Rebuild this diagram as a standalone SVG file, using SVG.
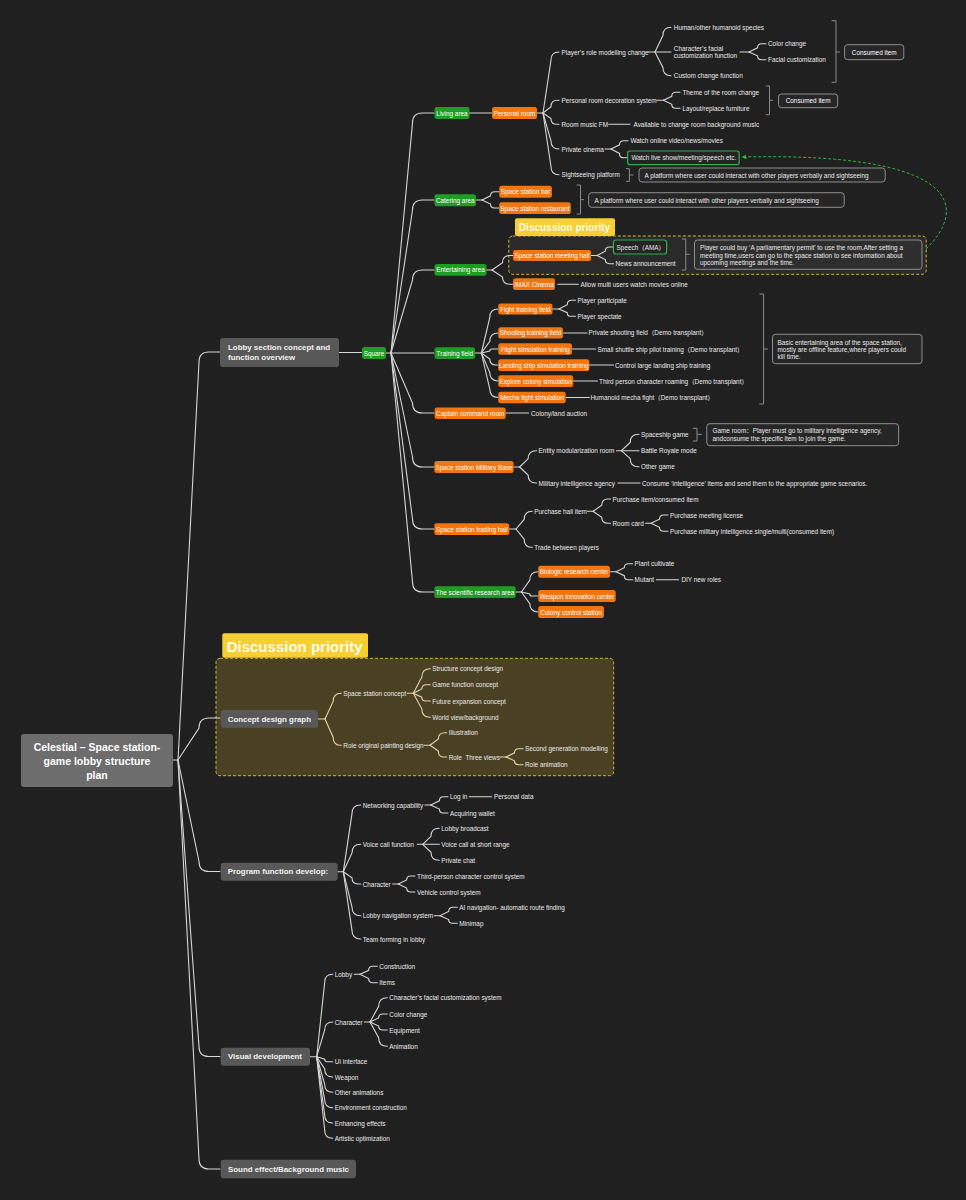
<svg xmlns="http://www.w3.org/2000/svg" width="966" height="1200" viewBox="0 0 966 1200">
<defs>
<style>
text{font-family:"Liberation Sans",Arial,"Noto Sans CJK SC",sans-serif;dominant-baseline:central;}
.t{font-size:6.4px;fill:#ebebeb;}
.tn{font-size:6.4px;fill:#ffffff;text-anchor:middle;}
.tb{font-size:7.9px;font-weight:bold;fill:#f2f2f2;}
.tr{font-size:10.5px;font-weight:bold;fill:#ffffff;text-anchor:middle;}
.l1{fill:#585858;}
.gr{fill:#1f9d22;}
.or{fill:#f2760f;}
.ln{fill:none;stroke:#d6d6d6;stroke-width:1.1;stroke-linecap:round;}
.lc{fill:none;stroke:#e3d7a8;stroke-width:1.1;stroke-linecap:round;}
.br{fill:none;stroke:#8a8a8a;stroke-width:1;}
.nb{fill:#262626;stroke:#9a9a9a;stroke-width:0.9;}
.gb{fill:#242424;stroke:#2fae4f;stroke-width:1.2;}
.dp{fill:#f6cf33;}
.dpt{font-weight:bold;fill:#fffbea;}
.dz{stroke:#cfb43e;stroke-width:1;stroke-dasharray:3 2;}
</style>
<marker id="ga" viewBox="0 0 10 10" refX="9" refY="5" markerWidth="5" markerHeight="5" orient="auto">
<path d="M0,0 L10,5 L0,10 z" fill="#2fb344"/>
</marker>
</defs>
<rect x="0" y="0" width="966" height="1200" fill="#202020"/>

<!-- priority regions -->
<g id="priority-1">
<rect x="508.8" y="236" width="417.4" height="38.3" rx="4" fill="#2a2a2a" class="dz"/>
<rect x="515" y="218.3" width="100" height="17.7" rx="2" class="dp"/>
<text x="518.8" y="227.3" class="dpt" style="font-size:10.1px">Discussion priority</text>
</g>
<g id="priority-2">
<rect x="216" y="658.3" width="397.7" height="117.4" rx="4" fill="#4a4024" class="dz"/>
<rect x="222.3" y="633.3" width="145.7" height="24.4" rx="2" class="dp"/>
<text x="226.7" y="646" class="dpt" style="font-size:15px">Discussion priority</text>
</g>

<g id="connectors">
<path class="ln" d="M173,760 H178"/>
<path class="ln" d="M178,760 L199,362 Q199,352 209,352 L220,352"/>
<path class="ln" d="M178,760 L199,728 Q199,718 209,718 L220,718"/>
<path class="ln" d="M178,760 L199,861.5 Q199,871.5 209,871.5 L220,871.5"/>
<path class="ln" d="M178,760 L199,1046.5 Q199,1056.5 209,1056.5 L220,1056.5"/>
<path class="ln" d="M178,760 L199,1159 Q199,1169 209,1169 L220,1169"/>
<path class="ln" d="M339,352.5 H362"/>
<path class="ln" d="M386,353 H391"/>
<path class="ln" d="M391,353 L412.5,123 Q412.5,113 422.5,113 L434,113"/>
<path class="ln" d="M391,353 L412.5,210 Q412.5,200 422.5,200 L434,200"/>
<path class="ln" d="M391,353 L412.5,280 Q412.5,270 422.5,270 L434,270"/>
<path class="ln" d="M391,353 L434,353"/>
<path class="ln" d="M391,353 L412.5,403 Q412.5,413 422.5,413 L434,413"/>
<path class="ln" d="M391,353 L412.5,457 Q412.5,467 422.5,467 L434,467"/>
<path class="ln" d="M391,353 L412.5,519 Q412.5,529 422.5,529 L434,529"/>
<path class="ln" d="M391,353 L412.5,582 Q412.5,592 422.5,592 L434,592"/>
<path class="ln" d="M469,113 H492"/>
<path class="ln" d="M537,113 H543"/>
<path class="ln" d="M543,113 L551,60 Q551,52 559,52"/>
<path class="ln" d="M543,113 L551,106.65 Q551,100.3 557.35,100.3 L559,100.3"/>
<path class="ln" d="M543,113 L551,118.65 Q551,124.3 556.65,124.3 L559,124.3"/>
<path class="ln" d="M543,113 L551,141 Q551,149 559,149"/>
<path class="ln" d="M543,113 L551,166.7 Q551,174.7 559,174.7"/>
<path class="ln" d="M648,52 H655"/>
<path class="ln" d="M655,52 L663,35.3 Q663,27.3 671,27.3"/>
<path class="ln" d="M655,52 L671,52"/>
<path class="ln" d="M655,52 L663,67.7 Q663,75.7 671,75.7"/>
<path class="ln" d="M740,52 H749"/>
<path class="ln" d="M749,52 L757.5,47.85 Q757.5,43.7 761.65,43.7 L766,43.7"/>
<path class="ln" d="M749,52 L757.5,55.85 Q757.5,59.7 761.35,59.7 L766,59.7"/>
<path class="ln" d="M657,100.3 H663.5"/>
<path class="ln" d="M663.5,100.3 L671.75,96.3 Q671.75,92.3 675.75,92.3 L680,92.3"/>
<path class="ln" d="M663.5,100.3 L671.75,104.3 Q671.75,108.3 675.75,108.3 L680,108.3"/>
<path class="ln" d="M608.7,124.3 H630"/>
<path class="ln" d="M605,149 H611"/>
<path class="ln" d="M611,149 L619.5,144.85 Q619.5,140.7 623.65,140.7 L628,140.7"/>
<path class="ln" d="M611,149 L619.5,153.4 Q619.5,157.8 623.9,157.8 L627.6,157.8"/>
<path class="ln" d="M476,200 H482"/>
<path class="ln" d="M482,200 L490.5,195.85 Q490.5,191.7 494.65,191.7 L499,191.7"/>
<path class="ln" d="M482,200 L490.5,204 Q490.5,208 494.5,208 L499,208"/>
<path class="ln" d="M486.5,270 H492"/>
<path class="ln" d="M492,270 L502.5,262.75 Q502.5,255.5 509.75,255.5 L513,255.5"/>
<path class="ln" d="M492,270 L502.5,277.1 Q502.5,284.2 509.6,284.2 L513,284.2"/>
<path class="ln" d="M591,255.5 H597"/>
<path class="ln" d="M597,255.5 L605.25,251.25 Q605.25,247 609.5,247 L613.5,247"/>
<path class="ln" d="M597,255.5 L605.25,259.6 Q605.25,263.7 609.35,263.7 L613.5,263.7"/>
<path class="ln" d="M557.7,284.3 H578.4"/>
<path class="ln" d="M475,353 H481.4"/>
<path class="ln" d="M481.4,353 L489.8,317.4 Q489.8,309 498.2,309"/>
<path class="ln" d="M481.4,353 L489.8,341.4 Q489.8,333 498.2,333"/>
<path class="ln" d="M481.4,353 L489.8,351 Q489.8,349 491.8,349 L498.2,349"/>
<path class="ln" d="M481.4,353 L489.8,359 Q489.8,365 495.8,365 L498.2,365"/>
<path class="ln" d="M481.4,353 L489.8,372.6 Q489.8,381 498.2,381"/>
<path class="ln" d="M481.4,353 L489.8,389.1 Q489.8,397.5 498.2,397.5"/>
<path class="ln" d="M552.5,309 H559"/>
<path class="ln" d="M559,309 L567.25,304.65 Q567.25,300.3 571.6,300.3 L575.5,300.3"/>
<path class="ln" d="M559,309 L567.25,312.65 Q567.25,316.3 570.9,316.3 L575.5,316.3"/>
<path class="ln" d="M562.9,333 H587"/>
<path class="ln" d="M572,349 H595.7"/>
<path class="ln" d="M589.3,365 H613.6"/>
<path class="ln" d="M573.2,381 H597.5"/>
<path class="ln" d="M565.7,397.5 H589.3"/>
<path class="ln" d="M505.7,413 H528.6"/>
<path class="ln" d="M513.6,467 H519.6"/>
<path class="ln" d="M519.6,467 L528.1,458.85 Q528.1,450.7 536.25,450.7 L536.6,450.7"/>
<path class="ln" d="M519.6,467 L528.1,475 Q528.1,483 536.1,483 L536.6,483"/>
<path class="ln" d="M616.4,450.7 H621.4"/>
<path class="ln" d="M621.4,450.7 L630.2,442.5 Q630.2,434.3 638.4,434.3 L639,434.3"/>
<path class="ln" d="M621.4,450.7 H639"/>
<path class="ln" d="M621.4,450.7 L630.2,458.7 Q630.2,466.7 638.2,466.7 L639,466.7"/>
<path class="ln" d="M617.9,483 H640"/>
<path class="ln" d="M509.3,529 H516"/>
<path class="ln" d="M516,529 L524.15,519.45 Q524.15,511.3 532.3,511.3"/>
<path class="ln" d="M516,529 L524.15,539.15 Q524.15,547.3 532.3,547.3"/>
<path class="ln" d="M587.5,511.3 H593"/>
<path class="ln" d="M593,511.3 L601.75,505.15 Q601.75,499 607.9,499 L610.5,499"/>
<path class="ln" d="M593,511.3 L601.75,517.3 Q601.75,523.3 607.75,523.3 L610.5,523.3"/>
<path class="ln" d="M645.7,523.3 H651"/>
<path class="ln" d="M651,523.3 L659.5,519.15 Q659.5,515 663.65,515 L668,515"/>
<path class="ln" d="M651,523.3 L659.5,527.3 Q659.5,531.3 663.5,531.3 L668,531.3"/>
<path class="ln" d="M515.7,592 H521.4"/>
<path class="ln" d="M521.4,592 L529.8,580.1 Q529.8,571.7 538.2,571.7"/>
<path class="ln" d="M521.4,592 L529.8,594 Q529.8,596 531.8,596 L538.2,596"/>
<path class="ln" d="M521.4,592 L529.8,603.6 Q529.8,612 538.2,612"/>
<path class="ln" d="M610,571.7 H616"/>
<path class="ln" d="M616,571.7 L624.3,567.7 Q624.3,563.7 628.3,563.7 L632.6,563.7"/>
<path class="ln" d="M616,571.7 L624.3,575.7 Q624.3,579.7 628.3,579.7 L632.6,579.7"/>
<path class="ln" d="M656.4,579.7 H678.6"/>
<path class="lc" d="M318,719 H325"/>
<path class="lc" d="M325,719 L333.15,701.45 Q333.15,693.3 341.3,693.3"/>
<path class="lc" d="M325,719 L333.15,737.15 Q333.15,745.3 341.3,745.3"/>
<path class="lc" d="M407.3,693.3 H413.3"/>
<path class="lc" d="M413.3,693.3 L421.8,677.2 Q421.8,668.7 430.3,668.7"/>
<path class="lc" d="M413.3,693.3 L421.8,689 Q421.8,684.7 426.1,684.7 L430.3,684.7"/>
<path class="lc" d="M413.3,693.3 L421.8,697.15 Q421.8,701 425.65,701 L430.3,701"/>
<path class="lc" d="M413.3,693.3 L421.8,708.8 Q421.8,717.3 430.3,717.3"/>
<path class="lc" d="M424,745.3 H430"/>
<path class="lc" d="M430,745.3 L438.35,739 Q438.35,732.7 444.65,732.7 L446.7,732.7"/>
<path class="lc" d="M430,745.3 L438.35,751.15 Q438.35,757 444.2,757 L446.7,757"/>
<path class="lc" d="M500,757 H506"/>
<path class="lc" d="M506,757 L514.5,752.85 Q514.5,748.7 518.65,748.7 L523,748.7"/>
<path class="lc" d="M506,757 L514.5,760.85 Q514.5,764.7 518.35,764.7 L523,764.7"/>
<path class="ln" d="M337.7,871.7 H343.3"/>
<path class="ln" d="M343.3,871.7 L352,813.7 Q352,805 360.7,805"/>
<path class="ln" d="M343.3,871.7 L352,853 Q352,844.3 360.7,844.3"/>
<path class="ln" d="M343.3,871.7 L352,877.85 Q352,884 358.15,884 L360.7,884"/>
<path class="ln" d="M343.3,871.7 L352,907 Q352,915.7 360.7,915.7"/>
<path class="ln" d="M343.3,871.7 L352,930.3 Q352,939 360.7,939"/>
<path class="ln" d="M425,805 H430.7"/>
<path class="ln" d="M430.7,805 L439.35,800.85 Q439.35,796.7 443.5,796.7 L448,796.7"/>
<path class="ln" d="M430.7,805 L439.35,809 Q439.35,813 443.35,813 L448,813"/>
<path class="ln" d="M469.3,796.7 H491.7"/>
<path class="ln" d="M417.3,844.3 H422.7"/>
<path class="ln" d="M422.7,844.3 L431,836.3 Q431,828.3 439,828.3 L439.3,828.3"/>
<path class="ln" d="M422.7,844.3 H439.3"/>
<path class="ln" d="M422.7,844.3 L431,852.3 Q431,860.3 439,860.3 L439.3,860.3"/>
<path class="ln" d="M392.7,884 H398.3"/>
<path class="ln" d="M398.3,884 L406.65,880 Q406.65,876 410.65,876 L415,876"/>
<path class="ln" d="M398.3,884 L406.65,888 Q406.65,892 410.65,892 L415,892"/>
<path class="ln" d="M434,915.7 H440"/>
<path class="ln" d="M440,915.7 L448.65,911.5 Q448.65,907.3 452.85,907.3 L457.3,907.3"/>
<path class="ln" d="M440,915.7 L448.65,919.5 Q448.65,923.3 452.45,923.3 L457.3,923.3"/>
<path class="ln" d="M310,1056.7 H316.7"/>
<path class="ln" d="M316.7,1056.7 L324.7,982.3 Q324.7,974.3 332.7,974.3"/>
<path class="ln" d="M316.7,1056.7 L324.7,1030 Q324.7,1022 332.7,1022"/>
<path class="ln" d="M316.7,1056.7 L324.7,1059.2 Q324.7,1061.7 327.2,1061.7 L332.7,1061.7"/>
<path class="ln" d="M316.7,1056.7 L324.7,1069 Q324.7,1077 332.7,1077"/>
<path class="ln" d="M316.7,1056.7 L324.7,1084.3 Q324.7,1092.3 332.7,1092.3"/>
<path class="ln" d="M316.7,1056.7 L324.7,1099.7 Q324.7,1107.7 332.7,1107.7"/>
<path class="ln" d="M316.7,1056.7 L324.7,1115 Q324.7,1123 332.7,1123"/>
<path class="ln" d="M316.7,1056.7 L324.7,1130.3 Q324.7,1138.3 332.7,1138.3"/>
<path class="ln" d="M354.3,974.3 H360"/>
<path class="ln" d="M360,974.3 L368.65,970.3 Q368.65,966.3 372.65,966.3 L377.3,966.3"/>
<path class="ln" d="M360,974.3 L368.65,978.5 Q368.65,982.7 372.85,982.7 L377.3,982.7"/>
<path class="ln" d="M364.3,1022 H370"/>
<path class="ln" d="M370,1022 L378.65,1006.35 Q378.65,997.7 387.3,997.7"/>
<path class="ln" d="M370,1022 L378.65,1018 Q378.65,1014 382.65,1014 L387.3,1014"/>
<path class="ln" d="M370,1022 L378.65,1026 Q378.65,1030 382.65,1030 L387.3,1030"/>
<path class="ln" d="M370,1022 L378.65,1037.65 Q378.65,1046.3 387.3,1046.3"/>
<!-- brackets -->
<path class="br" d="M831.5,20.7 H836 V82.3 H831.5 M836,52 H840"/>
<path class="br" d="M766,86 H769.5 V114.7 H766 M769.5,100.3 H773"/>
<path class="br" d="M626,168.7 H629.4 V181.3 H626 M629.4,175 H633.5"/>
<path class="br" d="M576.7,185 H580.5 V214 H576.7 M580.5,199.7 H584"/>
<path class="br" d="M681.7,239 H685.8 V270 H681.7 M685.8,254.3 H689.6"/>
<path class="br" d="M759.3,294 H763.6 V404 H759.3 M763.6,349 H767.9"/>
<path class="br" d="M692.9,428.3 H697 V441 H692.9 M697,434.3 H701.8"/>
<!-- relation -->
<path d="M926,249 C968,208 962,152 742,157" fill="none" stroke="#2fb344" stroke-width="1" stroke-dasharray="3 2" marker-end="url(#ga)"/>
</g>

<g id="root"><rect x="21" y="734" width="152" height="53" rx="3" fill="#6d6d6d"/>
<text x="97" y="747" class="tr">Celestial – Space station-</text>
<text x="97" y="761" class="tr">game lobby structure</text>
<text x="97" y="775" class="tr">plan</text></g>

<g id="lobby"><rect x="220" y="338" width="119" height="29" rx="3" class="l1"/>
<text x="228" y="347.7" class="tb">Lobby section concept and</text>
<text x="228" y="357.7" class="tb">function overview</text></g>
<g id="square"><rect x="362" y="347" width="24" height="12" rx="2.5" class="gr"/><text x="374" y="353" class="tn">Square</text></g>

<g id="living-area"><rect x="434.5" y="107" width="35" height="12" rx="2.5" class="gr"/><text x="452" y="113" class="tn">Living area</text></g>
<g id="personal-room"><rect x="492" y="107" width="45" height="12" rx="2.5" class="or"/><text x="514.5" y="113" class="tn">Personal room</text></g>
<g id="role-modelling"><text x="561.5" y="52" class="t">Player’s role modelling change</text></g>
<g id="humanoid"><text x="673.8" y="27.3" class="t">Human/other humanoid species</text></g>
<g id="facial-function"><text x="673.8" y="48.3" class="t">Character’s facial</text><text x="673.8" y="55.7" class="t">customization function</text></g>
<g id="color-change"><text x="768" y="43.7" class="t">Color change</text></g>
<g id="facial-custom"><text x="768" y="59.7" class="t">Facial customization</text></g>
<g id="custom-change"><text x="673.8" y="75.7" class="t">Custom change function</text></g>
<g id="consumed-1"><rect x="844.6" y="44.7" width="59.2" height="15" rx="3" class="nb"/><text x="874.2" y="52.2" class="tn">Consumed item</text></g>
<g id="decoration"><text x="561.5" y="100.3" class="t">Personal room decoration system</text></g>
<g id="theme"><text x="682.4" y="92.3" class="t">Theme of the room change</text></g>
<g id="layout"><text x="682.4" y="108.3" class="t">Layout/replace furniture</text></g>
<g id="consumed-2"><rect x="778.5" y="94" width="59.2" height="13.7" rx="3" class="nb"/><text x="808.1" y="100.9" class="tn">Consumed item</text></g>
<g id="room-music"><text x="561.5" y="124.3" class="t">Room music FM</text></g>
<g id="bg-music"><text x="633.5" y="124.3" class="t">Available to change room background music</text></g>
<g id="private-cinema"><text x="561.5" y="149" class="t">Private cinema</text></g>
<g id="watch-online"><text x="630.4" y="140.7" class="t">Watch online video/news/movies</text></g>
<g id="watch-live"><rect x="627.6" y="151" width="111.6" height="13.7" rx="2.5" class="gb"/><text x="631.4" y="157.9" class="t">Watch live show/meeting/speech etc.</text></g>
<g id="sightseeing"><text x="561.5" y="174.7" class="t">Sightseeing platform</text></g>
<g id="sightseeing-note"><rect x="639" y="168" width="246.2" height="14" rx="3" class="nb"/><text x="644.5" y="175" class="t">A platform where user could interact with other players verbally and sightseeing</text></g>

<g id="catering-area"><rect x="434.5" y="194.3" width="41.5" height="12" rx="2.5" class="gr"/><text x="455.3" y="200.3" class="tn">Catering area</text></g>
<g id="bar"><rect x="499.2" y="185.7" width="52.7" height="12" rx="2.5" class="or"/><text x="525.5" y="191.7" class="tn">Space station bar</text></g>
<g id="restaurant"><rect x="499.2" y="202.3" width="71.6" height="11.7" rx="2.5" class="or"/><text x="535" y="208.2" class="tn">Space station restaurant</text></g>
<g id="catering-note"><rect x="588.7" y="192.7" width="255.5" height="14.6" rx="3" class="nb"/><text x="594.6" y="200" class="t">A platform where user could interact with other players verbally and sightseeing</text></g>

<g id="entertaining-area"><rect x="434.5" y="264" width="52" height="11.7" rx="2.5" class="gr"/><text x="460.5" y="269.9" class="tn">Entertaining area</text></g>
<g id="meeting-hall"><rect x="513" y="250" width="78" height="11" rx="2.5" class="or"/><text x="552" y="255.5" class="tn">Space station meeting hall</text></g>
<g id="speech"><rect x="613.5" y="240" width="53.1" height="14" rx="2.5" class="gb"/><text x="616.6" y="247" class="t">Speech（AMA）</text></g>
<g id="news"><text x="615.6" y="263.7" class="t">News announcement</text></g>
<g id="meeting-note"><rect x="694.5" y="240" width="227.5" height="29.3" rx="3" fill="#2e2e2e" stroke="#9a9a9a" stroke-width="0.9"/>
<text x="700" y="247.3" class="t">Player could buy ‘A parliamentary permit’ to use the room.After setting a</text>
<text x="700" y="255" class="t">meeting time,users can go to the space station to see information about</text>
<text x="700" y="262.7" class="t">upcoming meetings and the time.</text></g>
<g id="imax"><rect x="513" y="278.3" width="42" height="11.7" rx="2.5" class="or"/><text x="534" y="284.2" class="tn">IMAX Cinema</text></g>
<g id="imax-note"><text x="580.5" y="284.3" class="t">Allow multi users watch movies online</text></g>

<g id="training-field"><rect x="434.6" y="347.3" width="40.4" height="11.7" rx="2.5" class="gr"/><text x="454.8" y="353.2" class="tn">Training field</text></g>
<g id="fight-training"><rect x="498.2" y="303.5" width="54.3" height="11" rx="2.5" class="or"/><text x="525.4" y="309" class="tn">Fight training field</text></g>
<g id="participate"><text x="577.5" y="300.3" class="t">Player participate</text></g>
<g id="spectate"><text x="577.5" y="316.3" class="t">Player spectate</text></g>
<g id="shooting"><rect x="498.2" y="327.2" width="64.7" height="11.4" rx="2.5" class="or"/><text x="530.5" y="332.9" class="tn">Shooting training field</text></g>
<g id="shooting-note"><text x="588.6" y="332.7" class="t">Private shooting field（Demo transplant）</text></g>
<g id="flight"><rect x="498.2" y="343.3" width="73.8" height="11.4" rx="2.5" class="or"/><text x="535.1" y="349" class="tn">Flight simulation training</text></g>
<g id="flight-note"><text x="597.5" y="349" class="t">Small shuttle ship pilot training（Demo transplant）</text></g>
<g id="landing"><rect x="498.2" y="359.3" width="91.1" height="11.7" rx="2.5" class="or"/><text x="543.8" y="365.2" class="tn">Landing ship simulation training</text></g>
<g id="landing-note"><text x="615" y="365" class="t">Control large landing ship training</text></g>
<g id="explore"><rect x="498.2" y="375.3" width="75" height="11.7" rx="2.5" class="or"/><text x="535.7" y="381.2" class="tn">Explore colony simulation</text></g>
<g id="explore-note"><text x="599" y="381" class="t">Third person character roaming（Demo transplant）</text></g>
<g id="mecha"><rect x="498.2" y="391.7" width="67.5" height="11.6" rx="2.5" class="or"/><text x="532" y="397.5" class="tn">Mecha fight simulation</text></g>
<g id="mecha-note"><text x="590.4" y="397.3" class="t">Humanoid mecha fight（Demo transplant）</text></g>
<g id="training-note"><rect x="772.5" y="334.3" width="149.5" height="29.4" rx="3" class="nb"/>
<text x="777.5" y="342" class="t">Basic entertaining area of the space station,</text>
<text x="777.5" y="349.3" class="t">mostly are offline feature,where players could</text>
<text x="777.5" y="356.7" class="t">kill time.</text></g>

<g id="captain"><rect x="434.6" y="407.5" width="71.1" height="11.4" rx="2.5" class="or"/><text x="470.2" y="413.2" class="tn">Captain command room</text></g>
<g id="auction"><text x="531" y="413.5" class="t">Colony/land auction</text></g>

<g id="military-base"><rect x="434.3" y="461" width="79.3" height="12" rx="2.5" class="or"/><text x="474" y="467" class="tn">Space station Military Base</text></g>
<g id="entity-room"><text x="538.6" y="450.7" class="t">Entity modularization room</text></g>
<g id="spaceship-game"><text x="641" y="434.3" class="t">Spaceship game</text></g>
<g id="battle-royale"><text x="641" y="450.7" class="t">Battle Royale mode</text></g>
<g id="other-game"><text x="641" y="466.7" class="t">Other game</text></g>
<g id="game-room-note"><rect x="706.8" y="423.7" width="191.8" height="22" rx="3" class="nb"/>
<text x="712.5" y="430.7" class="t">Game room：Player must go to military intelligence agency,</text>
<text x="712.5" y="438.4" class="t">andconsume the specific item to join the game.</text></g>
<g id="intel-agency"><text x="538.6" y="483" class="t">Military intelligence agency</text></g>
<g id="intel-note"><text x="642" y="483" class="t">Consume ‘intelligence’ items and send them to the appropriate game scenarios.</text></g>

<g id="trading-hall"><rect x="434.3" y="523.3" width="75" height="11.7" rx="2.5" class="or"/><text x="471.8" y="529.2" class="tn">Space station trading hall</text></g>
<g id="purchase-hall"><text x="534.3" y="511.3" class="t">Purchase hall item</text></g>
<g id="purchase-item"><text x="612.5" y="499" class="t">Purchase item/consumed item</text></g>
<g id="room-card"><text x="612.5" y="523.3" class="t">Room card</text></g>
<g id="meeting-license"><text x="670" y="515" class="t">Purchase meeting license</text></g>
<g id="intel-purchase"><text x="670" y="531.3" class="t">Purchase military intelligence single/multi(consumed item)</text></g>
<g id="trade-players"><text x="534.3" y="547.3" class="t">Trade between players</text></g>

<g id="scientific-area"><rect x="434.3" y="586.3" width="81.4" height="11.7" rx="2.5" class="gr"/><text x="475" y="592.2" class="tn">The scientific research area</text></g>
<g id="biologic"><rect x="538.2" y="565.7" width="71.8" height="12" rx="2.5" class="or"/><text x="574.1" y="571.7" class="tn">Biologic research center</text></g>
<g id="plant"><text x="634.6" y="563.7" class="t">Plant cultivate</text></g>
<g id="mutant"><text x="634.6" y="579.7" class="t">Mutant</text></g>
<g id="diy"><text x="681.4" y="579.7" class="t">DIY new roles</text></g>
<g id="weapon-center"><rect x="538.2" y="590" width="77.5" height="12" rx="2.5" class="or"/><text x="577" y="596" class="tn">Weapon Innovation center</text></g>
<g id="colony-station"><rect x="538.2" y="606" width="65.8" height="12" rx="2.5" class="or"/><text x="571.1" y="612" class="tn">Colony control station</text></g>

<g id="concept"><rect x="220.7" y="710" width="97.3" height="17.7" rx="3" class="l1"/><text x="227.7" y="719" class="tb">Concept design graph</text></g>
<g id="station-concept"><text x="343.3" y="693.3" class="t">Space station concept</text></g>
<g id="structure-concept"><text x="432.3" y="668.7" class="t">Structure concept design</text></g>
<g id="game-function-concept"><text x="432.3" y="684.7" class="t">Game function concept</text></g>
<g id="future-concept"><text x="432.3" y="701" class="t">Future expansion concept</text></g>
<g id="world-view"><text x="432.3" y="717.3" class="t">World view/background</text></g>
<g id="role-painting"><text x="343.3" y="745.3" class="t">Role original painting design</text></g>
<g id="illustration"><text x="448.7" y="732.7" class="t">Illustration</text></g>
<g id="three-views"><text x="448.7" y="757" class="t">Role&#160;&#160;Three views</text></g>
<g id="second-gen"><text x="525" y="748.7" class="t">Second generation modelling</text></g>
<g id="role-animation"><text x="525" y="764.7" class="t">Role animation</text></g>

<g id="program"><rect x="220.7" y="862.7" width="117" height="18" rx="3" class="l1"/><text x="227.7" y="871.7" class="tb">Program function develop:</text></g>
<g id="networking"><text x="362.7" y="805" class="t">Networking capability</text></g>
<g id="log-in"><text x="450" y="796.7" class="t">Log in</text></g>
<g id="personal-data"><text x="494" y="796.7" class="t">Personal data</text></g>
<g id="wallet"><text x="450" y="813" class="t">Acquiring wallet</text></g>
<g id="voice-call"><text x="362.7" y="844.3" class="t">Voice call function</text></g>
<g id="broadcast"><text x="441.3" y="828.3" class="t">Lobby broadcast</text></g>
<g id="short-range"><text x="441.3" y="844.3" class="t">Voice call at short range</text></g>
<g id="private-chat"><text x="441.3" y="860.3" class="t">Private chat</text></g>
<g id="prog-character"><text x="362.7" y="884" class="t">Character</text></g>
<g id="third-person"><text x="417" y="876" class="t">Third-person character control system</text></g>
<g id="vehicle"><text x="417" y="892" class="t">Vehicle control system</text></g>
<g id="navigation"><text x="362.7" y="915.7" class="t">Lobby navigation system</text></g>
<g id="ai-nav"><text x="459.3" y="907.3" class="t">AI navigation- automatic route finding</text></g>
<g id="minimap"><text x="459.3" y="923.3" class="t">Minimap</text></g>
<g id="team"><text x="362.7" y="939" class="t">Team forming in lobby</text></g>

<g id="visual"><rect x="220.7" y="1047.7" width="89.3" height="18" rx="3" class="l1"/><text x="228" y="1056.7" class="tb">Visual development</text></g>
<g id="vis-lobby"><text x="334.7" y="974.3" class="t">Lobby</text></g>
<g id="construction"><text x="379.3" y="966.3" class="t">Construction</text></g>
<g id="items"><text x="379.3" y="982.7" class="t">Items</text></g>
<g id="vis-character"><text x="334.7" y="1022" class="t">Character</text></g>
<g id="facial-system"><text x="389.3" y="997.7" class="t">Character’s facial customization system</text></g>
<g id="vis-color"><text x="389.3" y="1014" class="t">Color change</text></g>
<g id="equipment"><text x="389.3" y="1030" class="t">Equipment</text></g>
<g id="animation"><text x="389.3" y="1046.3" class="t">Animation</text></g>
<g id="ui"><text x="334.7" y="1061.7" class="t">UI interface</text></g>
<g id="weapon"><text x="334.7" y="1077" class="t">Weapon</text></g>
<g id="other-anim"><text x="334.7" y="1092.3" class="t">Other animations</text></g>
<g id="environment"><text x="334.7" y="1107.7" class="t">Environment construction</text></g>
<g id="enhancing"><text x="334.7" y="1123" class="t">Enhancing effects</text></g>
<g id="artistic"><text x="334.7" y="1138.3" class="t">Artistic optimization</text></g>

<g id="sound"><rect x="220.7" y="1159.7" width="135.3" height="18.6" rx="3" class="l1"/><text x="228" y="1169" class="tb">Sound effect/Background music</text></g>
</svg>
